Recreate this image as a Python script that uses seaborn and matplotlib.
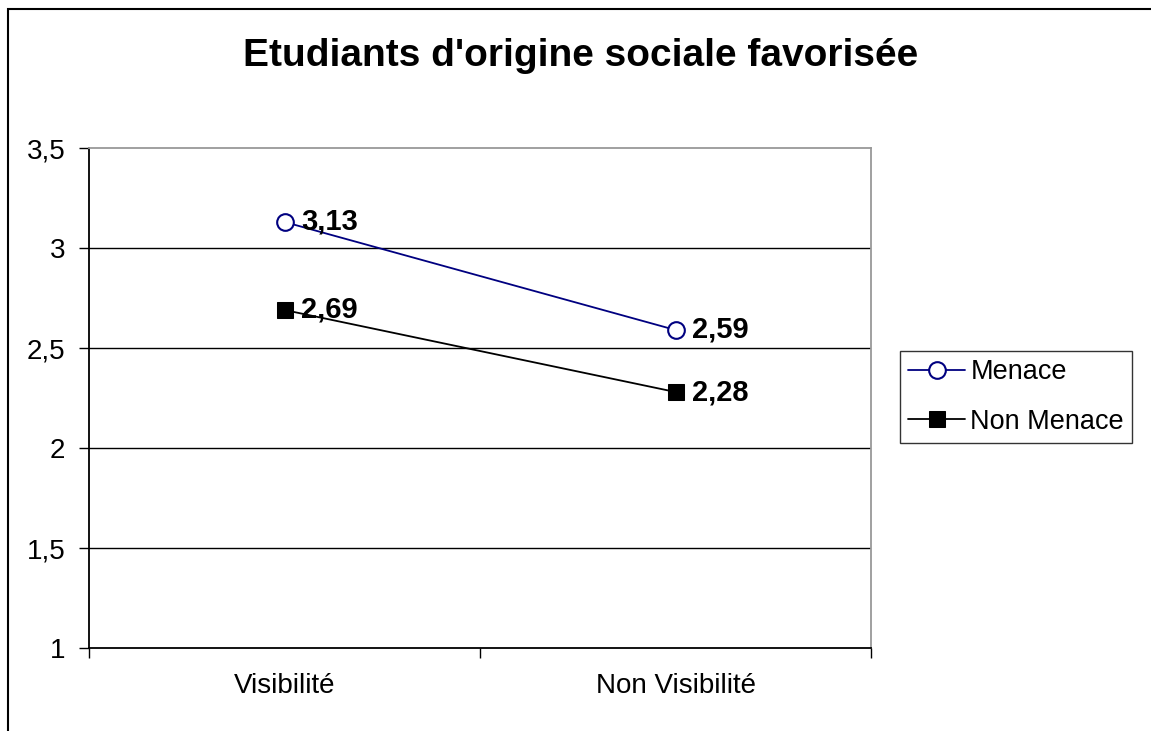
import numpy as np
import pandas as pd
import matplotlib
matplotlib.use('Agg')
import matplotlib.pyplot as plt
import seaborn as sns
from matplotlib.patches import Rectangle

# Data
categories = ['Visibilité', 'Non Visibilité']
menace = [3.13, 2.59]
non_menace = [2.69, 2.28]
series_names = ['Menace', 'Non Menace']
y_ticks = [1, 1.5, 2, 2.5, 3, 3.5]
y_tick_labels = ['1', '1,5', '2', '2,5', '3', '3,5']

sns.set_style('white', {'text.color': 'black', 'axes.labelcolor': 'black',
                        'xtick.color': 'black', 'ytick.color': 'black'})
plt.rcParams['font.family'] = ['Liberation Sans', 'DejaVu Sans']

fig = plt.figure(figsize=(11.51, 7.31), dpi=100)
ax = fig.add_axes([89 / 1151, 1 - 648 / 731, (871 - 89) / 1151, (648 - 148) / 731])

# outer chart border (left and top visible)
fig.patches.append(Rectangle((8 / 1151, -0.1), 1.2, 1 - 9 / 731 + 0.1,
                             transform=fig.transFigure, fill=False,
                             edgecolor='black', linewidth=1.5, zorder=0))

df = pd.DataFrame({'cat': categories * 2,
                   'val': menace + non_menace,
                   'serie': [series_names[0]] * 2 + [series_names[1]] * 2})

styles = {
    'Menace': dict(color='#000080', marker='o', markerfacecolor='white',
                   markeredgecolor='#000080', markersize=12, markeredgewidth=1.5),
    'Non Menace': dict(color='black', marker='s', markerfacecolor='black',
                       markeredgecolor='black', markersize=11),
}

for name in series_names:
    sub = df[df['serie'] == name]
    sns.lineplot(data=sub, x='cat', y='val', sort=False, ax=ax, label=name,
                 linewidth=1.3, **styles[name])
    for i, v in enumerate(sub['val']):
        ax.annotate(f'{v:.2f}'.replace('.', ','), xy=(i, v), xytext=(12, 0),
                    textcoords='offset points', ha='left', va='center',
                    fontsize=21, fontweight='bold', color='black', zorder=5)

ax.set_xlim(-0.5, 1.5)
ax.set_ylim(1, 3.5)
ax.set_yticks(y_ticks)
ax.set_yticklabels(y_tick_labels, fontsize=20)
ax.set_xticks([0, 1])
ax.set_xticklabels(categories, fontsize=20)
ax.set_xticks([-0.5, 0.5, 1.5], minor=True)
ax.tick_params(axis='x', which='major', length=0, pad=18)
ax.tick_params(axis='x', which='minor', direction='out', length=7, width=1, color='black', bottom=True)
ax.tick_params(axis='y', direction='out', length=7, width=1, color='black', left=True, pad=10)
ax.set_xlabel('')
ax.set_ylabel('')

for y in y_ticks[1:-1]:
    ax.axhline(y, color='black', linewidth=1, zorder=1)

ax.spines['left'].set_color('black')
ax.spines['bottom'].set_color('black')
ax.spines['top'].set_color('#999999')
ax.spines['right'].set_color('#999999')
for s in ax.spines.values():
    s.set_linewidth(1.3)

leg = ax.legend(loc='center left', bbox_to_anchor=(900 / 1151, 1 - 397 / 731),
                bbox_transform=fig.transFigure, fontsize=19.5, frameon=True,
                fancybox=False, edgecolor='black', handlelength=2.1,
                handletextpad=0.2, borderpad=0.3, labelspacing=0.85,
                borderaxespad=0)
leg.get_frame().set_linewidth(1)

fig.text(581 / 1151, 1 - 56 / 731, "Etudiants d'origine sociale favorisée",
         ha='center', va='center', fontsize=28, fontweight='bold', color='black')

fig.savefig('out.png', dpi=100)
